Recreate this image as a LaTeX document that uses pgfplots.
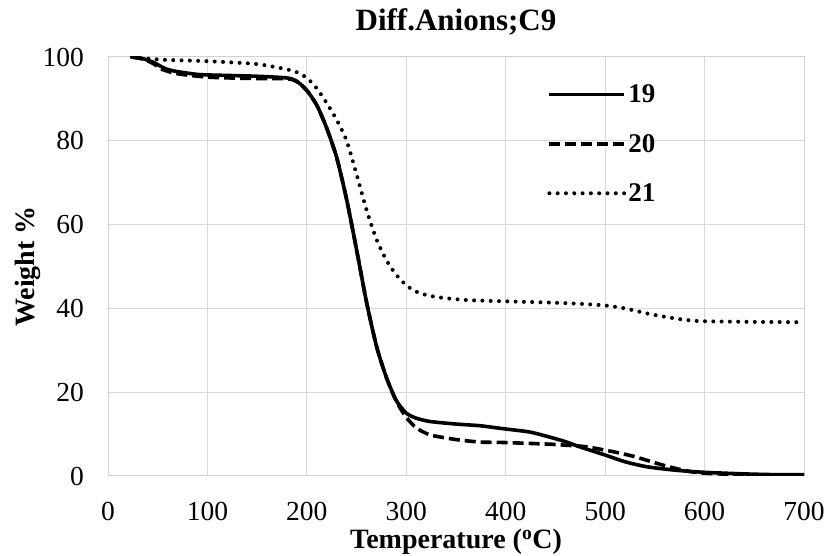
\documentclass[border=0pt]{standalone}
\usepackage{fontspec}
\setmainfont{Liberation Serif}
\usepackage{pgfplots}
\pgfplotsset{compat=1.18}
\definecolor{gridc}{RGB}{217,217,217}
\begin{document}
\begin{tikzpicture}
\useasboundingbox (0pt,0pt) rectangle (826pt,556pt);
\begin{axis}[
  at={(108pt,80pt)}, anchor=south west,
  scale only axis, width=696pt, height=419pt,
  xmin=0, xmax=700, ymin=0, ymax=100,
  xtick={0,100,...,700}, ytick={0,20,...,100},
  grid=major, major grid style={gridc, line width=1pt},
  axis line style={gridc!90!gray, line width=1pt},
  major tick length=0pt,
  /pgf/number format/assume math mode=true,
  ticklabel style={font=\fontsize{27.5}{31}\selectfont},
  xticklabel style={anchor=center, yshift=-35pt},
  yticklabel style={anchor=east, inner sep=0pt, xshift=-24pt},
  title={\textbf{Diff.Anions;C9}},
  title style={font=\fontsize{31}{36}\selectfont, at={(axis description cs:0.5,1.0692)}, anchor=center},
  xlabel={\textbf{Temperature (\textsuperscript{o}C)}},
  xlabel style={font=\fontsize{28}{32}\selectfont, at={(axis description cs:0.5,-0.158)}, anchor=center},
  ylabel={\textbf{Weight \%}},
  ylabel style={font=\fontsize{28}{32}\selectfont, at={(axis description cs:-0.115,0.5)}, anchor=center},
  legend style={at={(axis description cs:0.631,0.939)}, anchor=north west, draw=none, fill=none,
    font=\fontsize{27}{31}\selectfont\bfseries, row sep=26pt, inner sep=0pt},
  legend cell align=left,
  legend image code/.code={\draw[#1] (0pt,0pt) -- (75pt,0pt);},
]
\addplot[black, line width=3.6pt, smooth, tension=0.4] coordinates {
(24,100) (35,99.6) (45,98.8) (52,97.9) (59,97.1) (70,96.5) (92,95.8) (120,95.6) (150,95.4) (180,95.0) (190,94.2) (200,92) (210,88.5) (220,83) (230,76) (240,66) (250,54) (260,41.5) (270,31) (280,23.5) (290,18) (300,15) (310,13.8) (324,13) (350,12.4) (374,12) (397,11.3) (424,10.5) (444,9.3) (460,8.2) (474,7) (500,5) (520,3.4) (542,2.2) (570,1.4) (598,0.9) (640,0.5) (675,0.3) (700,0.3)
};
\addlegendentry{19}
\addplot[black, line width=3.6pt, smooth, tension=0.4, dash pattern=on 11pt off 5pt] coordinates {
(24,100) (35,99.5) (45,98.5) (55,97) (70,96) (100,95.2) (140,94.9) (180,94.8) (190,94.1) (200,92) (210,88.5) (220,83) (230,76) (240,66) (250,54) (260,41.5) (270,31) (280,23.5) (290,17.8) (300,14) (310,11.5) (324,9.8) (350,8.7) (374,8.1) (397,8) (444,7.6) (457,7.4) (480,7) (508,5.8) (530,4.6) (558,2.6) (580,1.3) (598,0.7) (640,0.3) (700,0.2)
};
\addlegendentry{20}
\addplot[black, line width=4pt, smooth, tension=0.4, line cap=round, dash pattern=on 0pt off 8.3pt] coordinates {
(24,100) (40,99.6) (60,99.3) (100,99) (150,98.3) (186,96.7) (200,95) (210,92.5) (220,89) (230,85) (240,80) (250,72) (260,63.5) (270,56.5) (280,51.5) (290,48) (300,45.5) (310,44) (320,43.2) (334,42.6) (360,42) (397,41.7) (444,41.4) (474,41.1) (500,40.7) (520,40) (542,38.8) (565,37.8) (592,37) (640,36.8) (700,36.7)
};
\addlegendentry{21}
\end{axis}
\end{tikzpicture}
\end{document}
